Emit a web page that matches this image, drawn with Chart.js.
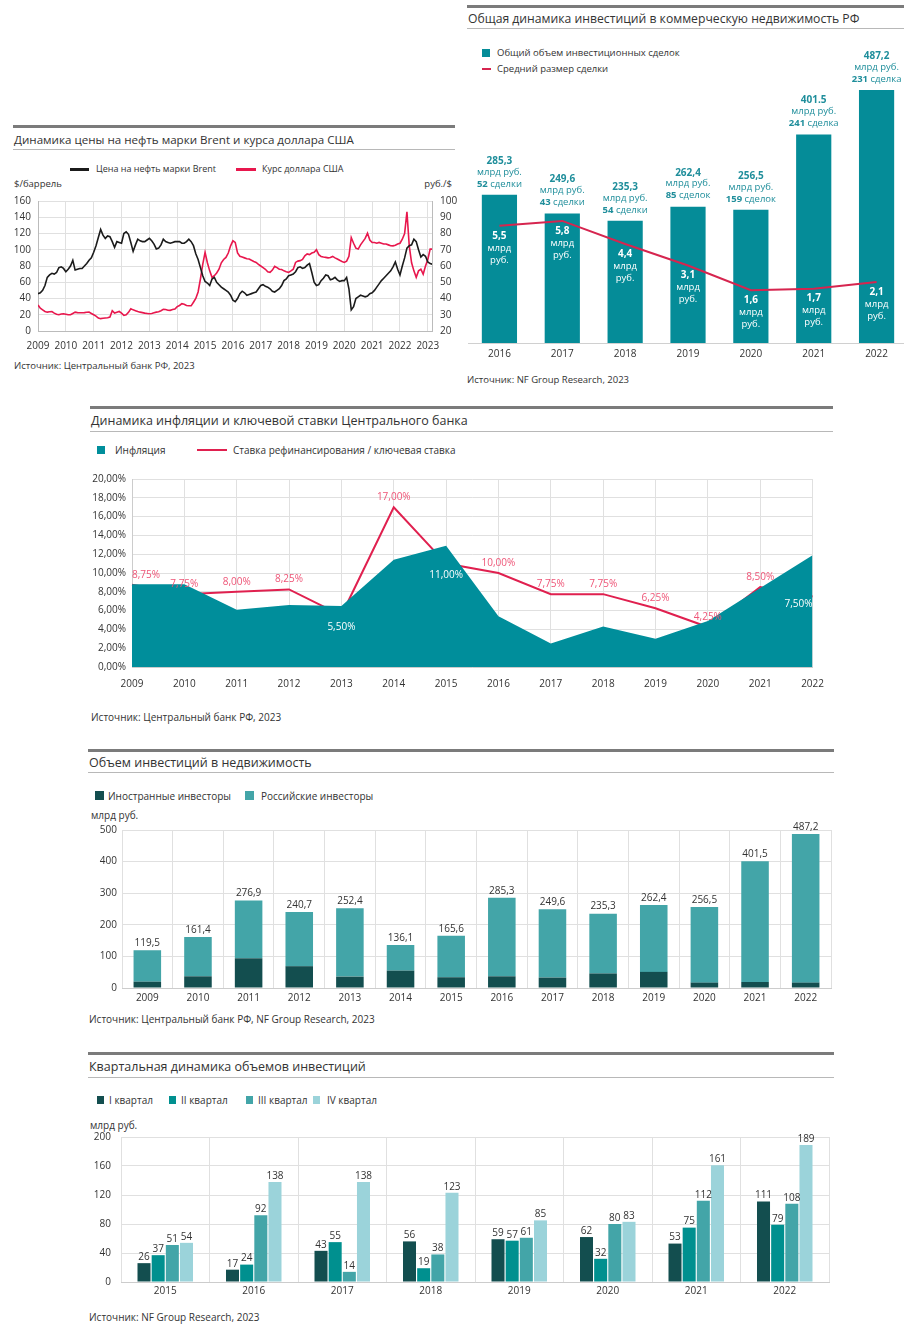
<!DOCTYPE html>
<html lang="ru">
<head>
<meta charset="utf-8">
<script src="https://cdn.jsdelivr.net/npm/chart.js@4.4.1/dist/chart.umd.min.js"></script>
<style>
  html, body { margin: 0; padding: 0; background: #fff; overflow: hidden; }
  body { width: 904px; height: 1326px; position: relative; font-family: 'Open Sans', sans-serif; color: #333; }
  .thick { position: absolute; height: 3px; background: #7b7b7b; }
  .thin { position: absolute; height: 1px; background: #b8b8b8; }
  .title { position: absolute; font-size: 12.5px; line-height: 17px; color: #333; white-space: nowrap; }
  .txt { position: absolute; font-size: 10px; line-height: 12px; color: #333; white-space: nowrap; }
  .sq { position: absolute; width: 9px; height: 9px; }
  .ln { position: absolute; height: 2px; }
  canvas { position: absolute; }
</style>
</head>
<body>

<!-- Brent / USD -->
<div class="thick" style="left:13px;top:125px;width:442px"></div>
<div class="title" style="left:14px;top:131px;font-size:11.6px">Динамика цены на нефть марки Brent и курса доллара США</div>
<div class="thin" style="left:13px;top:149px;width:442px"></div>
<div class="ln" style="left:70px;top:168px;width:19px;height:3px;background:#1b1b1b"></div>
<div class="txt" style="left:96px;top:163px;font-size:9px">Цена на нефть марки Brent</div>
<div class="ln" style="left:236px;top:168px;width:20px;height:3px;background:#e8174d"></div>
<div class="txt" style="left:262px;top:163px;font-size:9px">Курс доллара США</div>
<div class="txt" style="left:14px;top:178px;font-size:9.5px">$/баррель</div>
<div class="txt" style="left:352px;width:100px;text-align:right;top:178px;font-size:9.5px">руб./$</div>
<canvas id="brentChart" width="460" height="168" style="left:0;top:187px"></canvas>
<div class="txt" style="left:14px;top:360px;font-size:9.5px">Источник: Центральный банк РФ, 2023</div>

<!-- Commercial real estate -->
<div class="thick" style="left:467px;top:5px;width:437px"></div>
<div class="title" style="left:468px;top:10px;font-size:12.2px">Общая динамика инвестиций в коммерческую недвижимость РФ</div>
<div class="thin" style="left:467px;top:28px;width:437px"></div>
<div class="sq" style="left:482px;top:49px;width:8px;height:8px;background:#058c98"></div>
<div class="txt" style="left:497px;top:47px;font-size:9.5px">Общий объем инвестиционных сделок</div>
<div class="ln" style="left:482px;top:68px;width:9px;background:#d6254f"></div>
<div class="txt" style="left:497px;top:63px;font-size:9.5px">Средний размер сделки</div>
<canvas id="commercialChart" width="448" height="325" style="left:460px;top:40px"></canvas>
<div class="txt" style="left:467px;top:374px;font-size:9.5px">Источник: NF Group Research, 2023</div>

<!-- Inflation / key rate -->
<div class="thick" style="left:90px;top:406px;width:743px"></div>
<div class="title" style="left:91px;top:412px">Динамика инфляции и ключевой ставки Центрального банка</div>
<div class="thin" style="left:90px;top:431px;width:743px"></div>
<div class="sq" style="left:97px;top:446px;width:8px;height:8px;background:#008e9b"></div>
<div class="txt" style="left:115px;top:444px">Инфляция</div>
<div class="ln" style="left:197px;top:449px;width:30px;background:#e0204f"></div>
<div class="txt" style="left:233px;top:444px">Ставка рефинансирования / ключевая ставка</div>
<canvas id="inflationChart" width="750" height="233" style="left:85px;top:467px"></canvas>
<div class="txt" style="left:91px;top:711px">Источник: Центральный банк РФ, 2023</div>

<!-- Investment volume -->
<div class="thick" style="left:88px;top:749px;width:746px"></div>
<div class="title" style="left:89px;top:754px">Объем инвестиций в недвижимость</div>
<div class="thin" style="left:88px;top:772px;width:746px"></div>
<div class="sq" style="left:95px;top:791px;background:#134e4f"></div>
<div class="txt" style="left:108px;top:790px">Иностранные инвесторы</div>
<div class="sq" style="left:245px;top:791px;background:#43a5a8"></div>
<div class="txt" style="left:261px;top:790px">Российские инвесторы</div>
<div class="txt" style="left:91px;top:809px">млрд руб.</div>
<canvas id="volumeChart" width="760" height="191" style="left:80px;top:819px"></canvas>
<div class="txt" style="left:89px;top:1013px">Источник: Центральный банк РФ, NF Group Research, 2023</div>

<!-- Quarterly -->
<div class="thick" style="left:88px;top:1052px;width:746px"></div>
<div class="title" style="left:89px;top:1058px">Квартальная динамика объемов инвестиций</div>
<div class="thin" style="left:88px;top:1077px;width:746px"></div>
<div class="sq" style="left:97px;top:1096px;width:7px;height:8px;background:#134e4f"></div>
<div class="txt" style="left:109px;top:1094px">I квартал</div>
<div class="sq" style="left:169px;top:1096px;width:7px;height:8px;background:#00908f"></div>
<div class="txt" style="left:181px;top:1094px">II квартал</div>
<div class="sq" style="left:246px;top:1096px;width:7px;height:8px;background:#43a5a8"></div>
<div class="txt" style="left:258px;top:1094px">III квартал</div>
<div class="sq" style="left:313px;top:1096px;width:7px;height:8px;background:#9bd3da"></div>
<div class="txt" style="left:327px;top:1094px">IV квартал</div>
<div class="txt" style="left:90px;top:1119px">млрд руб.</div>
<canvas id="quarterChart" width="760" height="182" style="left:80px;top:1121px"></canvas>
<div class="txt" style="left:89px;top:1311px">Источник: NF Group Research, 2023</div>

<script>
// ---- data: Brent ($/barrel) and USD/RUB, monthly from Jan 2009
const brentMonthly = [
  46, 47, 50, 56, 66, 69, 71, 70, 72, 78, 79, 77,          // 2009
  73, 76, 80, 87, 75, 76, 77, 77, 80, 83, 87, 90,          // 2010
  97, 105, 115, 125, 118, 114, 117, 116, 110, 103, 110, 109, // 2011
  108, 120, 122, 119, 109, 98, 106, 113, 111, 110, 110, 112, // 2012
  114, 111, 107, 101, 102, 106, 113, 110, 109, 108, 109, 110, // 2013
  110, 110, 108, 108, 110, 113, 110, 105, 95, 88, 78, 68,  // 2014
  61, 59, 56, 64, 66, 60, 57, 54, 52, 50, 48, 44,          // 2015
  38, 36, 40, 46, 49, 47, 44, 45, 46, 47, 48, 52,          // 2016
  56, 57, 55, 54, 52, 49, 48, 50, 52, 56, 62, 64,          // 2017
  68, 69, 70, 73, 78, 79, 77, 78, 81, 83, 72, 60,          // 2018
  56, 57, 62, 65, 69, 68, 63, 64, 66, 63, 61, 62,          // 2019
  62, 66, 52, 26, 30, 40, 42, 44, 43, 42, 43, 46,          // 2020
  47, 50, 54, 58, 62, 65, 68, 71, 74, 79, 85, 76,          // 2021
  69, 80, 90, 102, 105, 106, 113, 110, 100, 91, 94, 92,    // 2022
  85, 83, 82                                               // 2023
];
const usdRubMonthly = [
  36, 34, 33, 32, 31.6, 31.8, 32, 31, 30.3, 30, 30.5, 30.6,        // 2009
  30.3, 30, 30, 30.8, 31.6, 31.3, 31.2, 31.2, 31.3, 31.5, 31.6, 30.8, // 2010
  30, 29.2, 28, 27.6, 27.8, 28, 28.2, 28.6, 32.5, 31, 31.5, 32,    // 2011
  31, 29.6, 30, 31.5, 33.7, 33, 32.5, 32, 31.6, 31.3, 31, 30.8,    // 2012
  30.6, 30.8, 31.2, 31.6, 31.8, 32.5, 33.3, 33.2, 32.8, 32.7, 33.2, 33.5, // 2013
  35, 35.7, 36.8, 36.5, 35.7, 35.5, 35.5, 37.7, 40, 44, 52, 61,    // 2014
  68.4, 62, 57, 53, 54, 55.7, 58, 62, 64, 65.3, 68, 72.4,          // 2015
  75.5, 74.5, 68, 66, 65.5, 65, 64.5, 64.3, 63.5, 62.8, 62.2, 61,  // 2016
  60, 59, 58, 56.5, 56.1, 57.5, 59.8, 59, 58, 57.8, 57, 56.5,      // 2017
  56.1, 57, 58, 62.2, 63, 63.3, 64, 66.3, 67.4, 67, 68, 68.4,      // 2018
  70, 67, 65.9, 65.5, 65.3, 65, 65.2, 65.9, 65, 64.3, 63.5, 62.8,  // 2019
  62.2, 63, 66, 77.5, 74, 71, 70.4, 73, 75, 77, 80.2, 76,          // 2020
  74.5, 74.5, 74, 74.5, 74, 73.5, 73.5, 73, 72.5, 72.4, 72.8, 73.5, // 2021
  74, 76.5, 80, 93.3, 72.4, 62, 57, 53, 57, 58, 55, 60,            // 2022
  64, 70.4, 70.4                                                   // 2023
];

// ---- data: commercial real estate investment
const dealYears = ['2016', '2017', '2018', '2019', '2020', '2021', '2022'];
const dealVolume = [285.3, 249.6, 235.3, 262.4, 256.5, 401.5, 487.2];
const dealVolumeLabels = ['285,3', '249,6', '235,3', '262,4', '256,5', '401.5', '487,2'];
const dealCounts = [52, 43, 54, 85, 159, 241, 231];
const avgDealSize = [5.5, 5.8, 4.4, 3.1, 1.6, 1.7, 2.1];

// ---- data: inflation and key rate (%)
const rateYears = ['2009', '2010', '2011', '2012', '2013', '2014', '2015', '2016', '2017', '2018', '2019', '2020', '2021', '2022'];
const inflation = [8.8, 8.8, 6.1, 6.6, 6.5, 11.4, 12.9, 5.4, 2.5, 4.3, 3.0, 4.9, 8.4, 11.9];
const keyRate = [8.75, 7.75, 8.00, 8.25, 5.50, 17.00, 11.00, 10.00, 7.75, 7.75, 6.25, 4.25, 8.50, 7.50];
// years whose rate label sits inside the inflation area
const rateLabelInside = ['2013', '2015', '2022'];

// ---- data: investment volume by investor type (bn rub)
const volumeYears = ['2009', '2010', '2011', '2012', '2013', '2014', '2015', '2016', '2017', '2018', '2019', '2020', '2021', '2022'];
const foreignInvestors = [20, 37, 94, 69, 36, 55, 34, 37, 33, 46, 51, 17, 19, 17];
const russianInvestors = [99.5, 124.4, 182.9, 171.7, 216.4, 81.1, 131.6, 248.3, 216.6, 189.3, 211.4, 239.5, 382.5, 470.2];
const volumeTotals = ['119,5', '161,4', '276,9', '240,7', '252,4', '136,1', '165,6', '285,3', '249,6', '235,3', '262,4', '256,5', '401,5', '487,2'];

// ---- data: quarterly volumes (bn rub)
const quarterYears = ['2015', '2016', '2017', '2018', '2019', '2020', '2021', '2022'];
const q1 = [26, 17, 43, 56, 59, 62, 53, 111];
const q2 = [37, 24, 55, 19, 57, 32, 75, 79];
const q3 = [51, 92, 14, 38, 61, 80, 112, 108];
const q4 = [54, 138, 138, 123, 85, 83, 161, 189];

Chart.defaults.font.family = "'Open Sans', sans-serif";
Chart.defaults.font.size = 10;
Chart.defaults.color = '#333';

const FONT = "'Open Sans', sans-serif";
const GRID = '#e0e0e0';
const base = {
  responsive: false,
  animation: false,
  devicePixelRatio: 1,
  plugins: { legend: { display: false }, tooltip: { enabled: false } }
};

function dealWord(n) {
  const m10 = n % 10, m100 = n % 100;
  if (m10 === 1 && m100 !== 11) return 'сделка';
  if (m10 >= 2 && m10 <= 4 && (m100 < 12 || m100 > 14)) return 'сделки';
  return 'сделок';
}
const comma = (v, d) => v.toFixed(d).replace('.', ',');

// ---------- Brent / USD ----------
new Chart(document.getElementById('brentChart'), {
  type: 'line',
  data: {
    datasets: [
      {
        label: 'Цена на нефть марки Brent',
        data: brentMonthly.map((v, i) => ({ x: 2009 + i / 12, y: v })),
        yAxisID: 'y', borderColor: '#1b1b1b', borderWidth: 1.6, pointRadius: 0, tension: 0
      },
      {
        label: 'Курс доллара США',
        data: usdRubMonthly.map((v, i) => ({ x: 2009 + i / 12, y: v })),
        yAxisID: 'y1', borderColor: '#e8174d', borderWidth: 1.6, pointRadius: 0, tension: 0
      }
    ]
  },
  options: {
    ...base,
    layout: { padding: 0 },
    scales: {
      x: {
        type: 'linear', min: 2009, max: 2023.15,
        ticks: { stepSize: 1, includeBounds: false, padding: 9, maxRotation: 0, autoSkip: false, callback: v => String(v) },
        grid: { color: GRID, drawTicks: false },
        border: { color: '#bbb' },
        afterFit: s => { s.height = 24; }
      },
      y: {
        position: 'left', min: 0, max: 160,
        ticks: { stepSize: 20, padding: 7 },
        grid: { color: GRID, drawTicks: false },
        border: { color: '#bbb' },
        afterFit: s => { s.width = 38; }
      },
      y1: {
        position: 'right', min: 20, max: 100,
        ticks: { stepSize: 10, padding: 8 },
        grid: { drawOnChartArea: false, drawTicks: false },
        border: { color: '#bbb' },
        afterFit: s => { s.width = 28; }
      }
    }
  }
});

// ---------- Commercial real estate ----------
const dealLabels = {
  id: 'dealLabels',
  afterDatasetsDraw(chart) {
    const ctx = chart.ctx;
    const bars = chart.getDatasetMeta(0).data;
    const pts = chart.getDatasetMeta(1).data;
    ctx.save();
    ctx.textBaseline = 'middle';
    bars.forEach((bar, i) => {
      const x = bar.x, top = bar.y;
      ctx.fillStyle = '#1f8e9b';
      ctx.textAlign = 'center';
      ctx.font = 'bold 10px ' + FONT;
      ctx.fillText(dealVolumeLabels[i], x, top - 34);
      ctx.font = '9.5px ' + FONT;
      ctx.fillText('млрд руб.', x, top - 23);
      const num = String(dealCounts[i]);
      const word = ' ' + dealWord(dealCounts[i]);
      ctx.font = 'bold 9.5px ' + FONT;
      const w1 = ctx.measureText(num).width;
      ctx.font = '9.5px ' + FONT;
      const w2 = ctx.measureText(word).width;
      const sx = x - (w1 + w2) / 2;
      ctx.textAlign = 'left';
      ctx.font = 'bold 9.5px ' + FONT;
      ctx.fillText(num, sx, top - 11);
      ctx.font = '9.5px ' + FONT;
      ctx.fillText(word, sx + w1, top - 11);

      const py = pts[i].y;
      ctx.fillStyle = '#fff';
      ctx.textAlign = 'center';
      ctx.font = 'bold 10px ' + FONT;
      ctx.fillText(comma(avgDealSize[i], 1), x, py + 10);
      ctx.font = '9.5px ' + FONT;
      ctx.fillText('млрд', x, py + 22);
      ctx.fillText('руб.', x, py + 34);
    });
    ctx.restore();
  }
};

new Chart(document.getElementById('commercialChart'), {
  type: 'bar',
  data: {
    labels: dealYears,
    datasets: [
      {
        type: 'bar', label: 'Общий объем инвестиционных сделок', data: dealVolume,
        backgroundColor: '#058c98', yAxisID: 'y', order: 1,
        categoryPercentage: 0.8, barPercentage: 0.7
      },
      {
        type: 'line', label: 'Средний размер сделки', data: avgDealSize,
        borderColor: '#d6254f', borderWidth: 2, pointRadius: 0, tension: 0, yAxisID: 'y2', order: 0
      }
    ]
  },
  options: {
    ...base,
    layout: { padding: { top: 20, left: 8, right: 0, bottom: 0 } },
    scales: {
      x: {
        ticks: { padding: 5 },
        grid: { display: false, drawTicks: false },
        border: { color: '#d0d0d0' },
        afterFit: s => { s.height = 22; }
      },
      y: { display: false, min: 0, max: 545 },
      y2: { display: false, min: -1.59, max: 15.54 }
    }
  },
  plugins: [dealLabels]
});

// ---------- Inflation / key rate ----------
const rateLabels = {
  id: 'rateLabels',
  afterDatasetsDraw(chart) {
    const ctx = chart.ctx;
    const pts = chart.getDatasetMeta(1).data;
    const n = pts.length;
    ctx.save();
    ctx.font = '10px ' + FONT;
    ctx.textBaseline = 'middle';
    pts.forEach((p, i) => {
      const inside = rateLabelInside.includes(rateYears[i]);
      ctx.fillStyle = inside ? '#ffffff' : '#ee5577';
      ctx.textAlign = i === 0 ? 'left' : (i === n - 1 ? 'right' : 'center');
      const y = inside ? p.y + (i === n - 1 ? 8 : 12) : p.y - 10;
      ctx.fillText(comma(keyRate[i], 2) + '%', p.x, y);
    });
    ctx.restore();
  }
};

new Chart(document.getElementById('inflationChart'), {
  type: 'line',
  data: {
    labels: rateYears,
    datasets: [
      {
        label: 'Инфляция', data: inflation, fill: 'origin',
        backgroundColor: '#008e9b', borderWidth: 0, pointRadius: 0, tension: 0
      },
      {
        label: 'Ставка рефинансирования / ключевая ставка', data: keyRate,
        borderColor: '#e0204f', borderWidth: 2, pointRadius: 0, tension: 0, fill: false
      }
    ]
  },
  options: {
    ...base,
    layout: { padding: { top: 0, left: 0, right: 16, bottom: 0 } },
    scales: {
      x: {
        ticks: { padding: 11, maxRotation: 0, autoSkip: false },
        grid: { color: GRID, drawTicks: false },
        border: { color: '#ccc' },
        afterFit: s => { s.height = 33; }
      },
      y: {
        min: 0, max: 20,
        ticks: { stepSize: 2, padding: 6, callback: v => comma(v, 2) + '%' },
        grid: { color: GRID, drawTicks: false },
        border: { color: '#ccc' },
        afterFit: s => { s.width = 47; }
      }
    }
  },
  plugins: [rateLabels]
});

// ---------- Investment volume ----------
const totalLabels = {
  id: 'totalLabels',
  afterDatasetsDraw(chart) {
    const ctx = chart.ctx;
    const tops = chart.getDatasetMeta(1).data;
    ctx.save();
    ctx.font = '10px ' + FONT;
    ctx.fillStyle = '#333';
    ctx.textAlign = 'center';
    ctx.textBaseline = 'bottom';
    tops.forEach((b, i) => ctx.fillText(volumeTotals[i], b.x, b.y - 2));
    ctx.restore();
  }
};

new Chart(document.getElementById('volumeChart'), {
  type: 'bar',
  data: {
    labels: volumeYears,
    datasets: [
      { label: 'Иностранные инвесторы', data: foreignInvestors, backgroundColor: '#134e4f' },
      { label: 'Российские инвесторы', data: russianInvestors, backgroundColor: '#43a5a8' }
    ]
  },
  options: {
    ...base,
    datasets: { bar: { categoryPercentage: 0.8, barPercentage: 0.68 } },
    layout: { padding: { top: 0, left: 0, right: 9, bottom: 0 } },
    scales: {
      x: {
        stacked: true,
        ticks: { padding: 4, maxRotation: 0, autoSkip: false },
        grid: { color: GRID, drawTicks: false },
        border: { color: '#ccc' },
        afterFit: s => { s.height = 22; }
      },
      y: {
        stacked: true, min: 0, max: 500,
        ticks: { stepSize: 100, padding: 5 },
        grid: { color: GRID, drawTicks: false },
        border: { display: false },
        afterFit: s => { s.width = 42; }
      }
    }
  },
  plugins: [totalLabels]
});

// ---------- Quarterly ----------
const quarterLabels = {
  id: 'quarterLabels',
  afterDatasetsDraw(chart) {
    const ctx = chart.ctx;
    ctx.save();
    ctx.font = '10px ' + FONT;
    ctx.fillStyle = '#333';
    ctx.textAlign = 'center';
    ctx.textBaseline = 'bottom';
    chart.data.datasets.forEach((ds, d) => {
      chart.getDatasetMeta(d).data.forEach((b, i) => ctx.fillText(String(ds.data[i]), b.x, b.y - 1));
    });
    ctx.restore();
  }
};

new Chart(document.getElementById('quarterChart'), {
  type: 'bar',
  data: {
    labels: quarterYears,
    datasets: [
      { label: 'I квартал', data: q1, backgroundColor: '#134e4f' },
      { label: 'II квартал', data: q2, backgroundColor: '#00908f' },
      { label: 'III квартал', data: q3, backgroundColor: '#43a5a8' },
      { label: 'IV квартал', data: q4, backgroundColor: '#9bd3da' }
    ]
  },
  options: {
    ...base,
    datasets: { bar: { categoryPercentage: 0.64, barPercentage: 0.92 } },
    layout: { padding: { top: 0, left: 0, right: 11, bottom: 0 } },
    scales: {
      x: {
        ticks: { padding: 3, maxRotation: 0, autoSkip: false },
        grid: { color: GRID, drawTicks: false },
        border: { color: '#ccc' },
        afterFit: s => { s.height = 21; }
      },
      y: {
        min: 0, max: 200,
        ticks: { stepSize: 40, padding: 10 },
        grid: { color: GRID, drawTicks: false },
        border: { display: false },
        afterFit: s => { s.width = 41; }
      }
    }
  },
  plugins: [quarterLabels]
});
</script>
</body>
</html>
